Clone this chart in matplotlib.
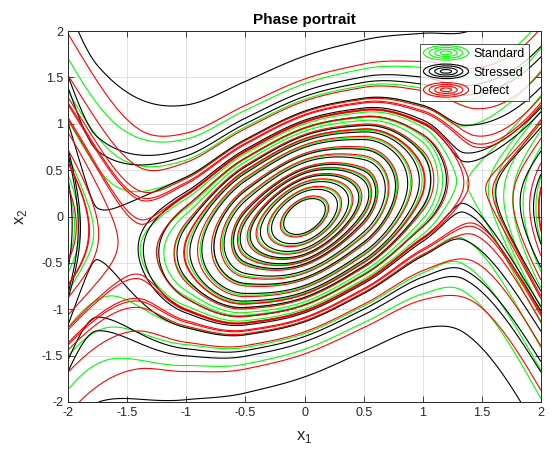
import numpy as np
import matplotlib
matplotlib.use('Agg')
import matplotlib.pyplot as plt
from matplotlib.patches import Ellipse
from matplotlib.legend_handler import HandlerBase
from matplotlib.lines import Line2D

plt.rcParams['font.family'] = ['Liberation Sans', 'DejaVu Sans']

series = ['Standard', 'Stressed', 'Defect']
colors = ['#00ff00', '#000000', '#ff0000']

# profile of each function along the valley (x1 knot, value): wells and saddles
profile_x_standard = [-3.0, -2.7, -1.60, -1.0, -0.5, 0.0, 0.5, 1.0, 1.32, 2.4, 2.8]
profile_v_standard = [0.50, 0.10, 0.85, 0.55, 0.15, 0.0, 0.15, 0.55, 0.80, 0.10, 0.50]
profile_x_stressed = [-2.8, -2.3, -1.75, -1.0, -0.5, 0.0, 0.5, 1.0, 1.35, 2.6, 3.0]
profile_v_stressed = [0.60, 0.20, 1.00, 0.55, 0.15, 0.0, 0.15, 0.55, 0.80, 0.20, 0.60]
profile_x_defect = [-2.8, -2.3, -1.40, -1.0, -0.5, 0.0, 0.5, 1.0, 1.45, 2.6, 3.0]
profile_v_defect = [0.60, 0.30, 0.78, 0.55, 0.15, 0.0, 0.15, 0.55, 0.85, 0.20, 0.60]
bowl_x2 = [0.80, 0.80, 0.80]
bowl_x2_width = [1.8, 1.8, 1.8]
shear = [0.45, 0.45, 0.45]
shear_width = [1.6, 1.6, 1.6]

# where the closed rings cross the positive x1 axis (x2 = 0)
rings_standard = [0.175, 0.27, 0.35, 0.41, 0.485, 0.54, 0.63, 0.70, 0.80, 0.88, 0.95, 1.06]
rings_stressed = [0.16, 0.25, 0.33, 0.40, 0.47, 0.53, 0.61, 0.69, 0.78, 0.86, 0.94, 1.08]
rings_defect = [0.185, 0.28, 0.36, 0.42, 0.495, 0.55, 0.64, 0.71, 0.81, 0.89, 0.96, 1.20]

# points that the outer contour lines pass through
outer_standard = [(-1.15, -0.2), (1.4, 0.45), (1.29, -0.22), (1.06, -0.81), (-0.82, 0.72)]
outer_stressed = [(1.42, 0.0), (-0.5, 1.0), (-1.0, 0.73), (-1.93, 0.2),
                  (-1.58, -0.65), (-0.75, -1.95)]
outer_defect = [(-1.18, 0.25), (-1.83, 0.0), (-1.58, -0.22), (-1.41, -0.67),
                (-1.41, -0.98), (-1.58, -1.28), (1.40, -0.07), (-0.88, 0.95)]

profiles = [(profile_x_standard, profile_v_standard),
            (profile_x_stressed, profile_v_stressed),
            (profile_x_defect, profile_v_defect)]
rings = [rings_standard, rings_stressed, rings_defect]
outers = [outer_standard, outer_stressed, outer_defect]


def pchip(xk, yk, x):
    xk = np.asarray(xk, float)
    yk = np.asarray(yk, float)
    h = np.diff(xk)
    d = np.diff(yk) / h
    m = np.zeros_like(yk)
    for k in range(1, len(xk) - 1):
        if d[k - 1] * d[k] > 0:
            w1 = 2 * h[k] + h[k - 1]
            w2 = h[k] + 2 * h[k - 1]
            m[k] = (w1 + w2) / (w1 / d[k - 1] + w2 / d[k])
    m[0], m[-1] = d[0], d[-1]
    x = np.asarray(x, float)
    idx = np.clip(np.searchsorted(xk, x) - 1, 0, len(xk) - 2)
    hk = h[idx]
    t = (x - xk[idx]) / hk
    h00 = 2 * t ** 3 - 3 * t ** 2 + 1
    h10 = t ** 3 - 2 * t ** 2 + t
    h01 = -2 * t ** 3 + 3 * t ** 2
    h11 = t ** 3 - t ** 2
    return h00 * yk[idx] + h10 * hk * m[idx] + h01 * yk[idx + 1] + h11 * hk * m[idx + 1]


def make_H(i):
    px, pv = profiles[i]
    A0, ra, g, r = bowl_x2[i], bowl_x2_width[i], shear[i], shear_width[i]

    def H(x1, x2):
        phi = x1 * np.exp(-(x1 / r) ** 4)
        A = A0 / (1 + (x1 / ra) ** 4)
        return A * (x2 - g * phi) ** 2 + pchip(px, pv, x1)
    return H


W, Hpx = 554, 453
fig = plt.figure(figsize=(W / 100, Hpx / 100), dpi=100)
ax = fig.add_axes([68 / W, 1 - 402 / Hpx, (541 - 68) / W, (402 - 31) / Hpx])

xs = np.linspace(-2, 2, 401)
ys = np.linspace(-2, 2, 401)
X, Y = np.meshgrid(xs, ys)

for i in range(3):
    H = make_H(i)
    Z = H(X, Y)
    pts = [(x, 0.0) for x in rings[i]] + list(outers[i])
    lv = sorted(set(round(float(H(np.array(p[0]), np.array(p[1]))), 6) for p in pts))
    ax.contour(X, Y, Z, levels=lv, colors=colors[i], linewidths=0.8)

ax.set_xlim(-2, 2)
ax.set_ylim(-2, 2)
ticks = np.arange(-2, 2.01, 0.5)
labels = ['-2', '-1.5', '-1', '-0.5', '0', '0.5', '1', '1.5', '2']
ax.set_xticks(ticks)
ax.set_yticks(ticks)
ax.set_xticklabels(labels)
ax.set_yticklabels(labels)
ax.grid(True, color='#dcdcdc', linewidth=0.6)
ax.set_axisbelow(True)
ax.tick_params(direction='in', length=4, width=0.6, colors='#262626',
               labelsize=9, top=True, right=True, labeltop=False, labelright=False)
for sp in ax.spines.values():
    sp.set_color('#262626')
    sp.set_linewidth(0.7)
ax.set_title('Phase portrait', fontsize=11, fontweight='bold', color='black', pad=5)
ax.set_xlabel(r'x$_\mathregular{1}$', fontsize=12, color='#262626', labelpad=7)
ax.set_ylabel(r'x$_\mathregular{2}$', fontsize=12, color='#262626', labelpad=9)


class ContourIcon(HandlerBase):
    def create_artists(self, legend, orig_handle, xdescent, ydescent, width,
                       height, fontsize, trans):
        col = orig_handle.get_color()
        cx, cy = width / 2 - xdescent, height / 2 - ydescent
        arts = []
        for f in (1.0, 0.75, 0.5, 0.25):
            e = Ellipse((cx, cy), width * f, height * 1.3 * f, fill=False,
                        edgecolor=col, linewidth=0.8, transform=trans)
            arts.append(e)
        return arts


handles = [Line2D([], [], color=c) for c in colors]
leg = ax.legend(handles, series, loc='upper right', handler_map={Line2D: ContourIcon()},
                fontsize=9, frameon=True, fancybox=False, edgecolor='#262626',
                handlelength=3.6, handleheight=1.0, borderpad=0.3, labelspacing=0.45,
                handletextpad=0.4, borderaxespad=1.0)
leg.get_frame().set_linewidth(0.7)

fig.savefig('out.png', dpi=100)
